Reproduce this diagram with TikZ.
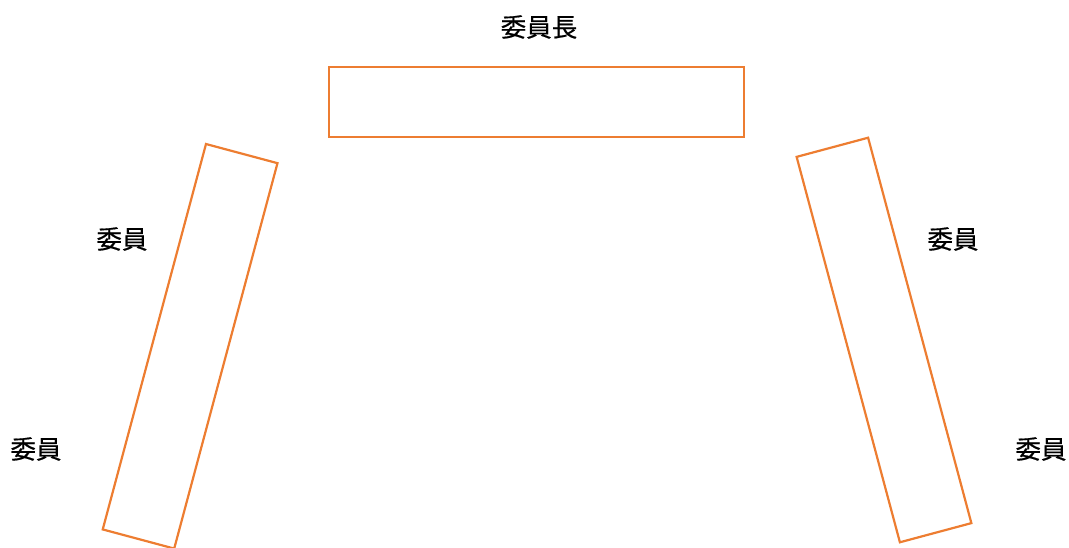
\documentclass[tikz,border=0pt]{standalone}
\usepackage{fontspec}
\newfontfamily\cjk[FakeBold=0.6]{Noto Sans CJK JP}
\definecolor{seatorange}{RGB}{237,125,49}
\begin{document}
\begin{tikzpicture}[x=1pt,y=-1pt,
  seat/.style={draw=seatorange,line width=2.2pt,inner sep=0pt,minimum width=#1},
  lbl/.style={font=\cjk\fontsize{25.5}{28}\selectfont,text=black,inner sep=0pt}]
\useasboundingbox (0,0) rectangle (1069,548);
\node[seat=415pt,minimum height=70pt] (chair) at (536.5,102.3) {};
\node[seat=74pt,minimum height=399pt,rotate=-15] (left) at (190.1,346.3) {};
\node[seat=74pt,minimum height=399pt,rotate=15] (right) at (884,340) {};
\node[lbl] (t0) at (539,27) {委員長};
\node[lbl] (t1) at (122,239) {委員};
\node[lbl] (t2) at (36,449) {委員};
\node[lbl] (t3) at (953,239) {委員};
\node[lbl] (t4) at (1041,449) {委員};
\end{tikzpicture}
\end{document}
